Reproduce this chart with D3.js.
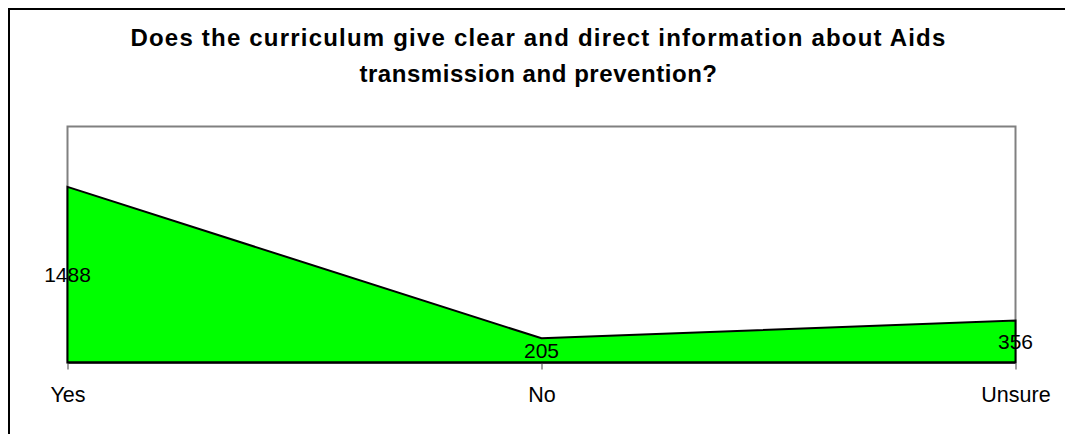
<!DOCTYPE html>
<html>
<head>
<meta charset="utf-8">
<script src="https://cdn.jsdelivr.net/npm/d3@7"></script>
<style>
  html, body { margin: 0; padding: 0; background: #fff; overflow: hidden; }
  svg { display: block; }
  text { font-family: "Liberation Sans", Arial, sans-serif; }
</style>
</head>
<body>
<svg id="chart" width="1065" height="434"></svg>
<script>
// Survey responses
const categories = ["Yes", "No", "Unsure"];
const responses = [1488, 205, 356];
const titleLines = [
  "Does the curriculum give clear and direct information about Aids",
  "transmission and prevention?"
];
const titleSpacing = [1.2, 0.55];

const svg = d3.select("#chart");

// chart frame: only its top and left edges lie within the page
svg.append("path")
  .attr("d", "M9,434 V9 H1065")
  .attr("fill", "none")
  .attr("stroke", "#000")
  .attr("stroke-width", 2);

const plot = { left: 67.5, right: 1015.5, top: 126.5, bottom: 362.5 };

const x = d3.scalePoint()
  .domain(categories)
  .range([plot.left, plot.right]);

const y = d3.scaleLinear()
  .domain([0, 2000])
  .range([plot.bottom, plot.top]);

// plot area border
svg.append("rect")
  .attr("x", plot.left).attr("y", plot.top)
  .attr("width", plot.right - plot.left)
  .attr("height", plot.bottom - plot.top)
  .attr("fill", "#fff")
  .attr("stroke", "#808080")
  .attr("stroke-width", 2);

const data = categories.map((c, i) => ({ cat: c, value: responses[i] }));

const area = d3.area()
  .x(d => x(d.cat))
  .y0(y(0))
  .y1(d => y(d.value));

svg.append("path")
  .datum(data)
  .attr("d", area)
  .attr("fill", "#00ff00")
  .attr("stroke", "#000")
  .attr("stroke-width", 2)
  .attr("stroke-linejoin", "miter");

// category axis
const xAxis = d3.axisBottom(x).tickSize(7).tickPadding(17);
const gx = svg.append("g")
  .attr("transform", `translate(0,${plot.bottom})`)
  .call(xAxis);
gx.select(".domain").remove();
gx.selectAll(".tick line")
  .attr("stroke", "#808080")
  .attr("stroke-width", 1.5)
  .attr("y1", 1);
gx.selectAll(".tick text")
  .attr("font-size", 21.5)
  .attr("fill", "#000")
  .attr("font-family", "Liberation Sans, Arial, sans-serif");

// baseline drawn over the tick tops
svg.append("line")
  .attr("x1", plot.left).attr("x2", plot.right)
  .attr("y1", plot.bottom).attr("y2", plot.bottom)
  .attr("stroke", "#000").attr("stroke-width", 2);

// value labels centred inside the filled area
svg.append("g").selectAll("text")
  .data(data)
  .join("text")
  .attr("x", d => x(d.cat))
  .attr("y", d => (y(d.value) + y(0)) / 2)
  .attr("dy", "0.35em")
  .attr("text-anchor", "middle")
  .attr("font-size", 21)
  .attr("fill", "#000")
  .text(d => d.value);

// title
svg.append("g").selectAll("text")
  .data(titleLines)
  .join("text")
  .attr("x", 538.5)
  .attr("y", (d, i) => 46.3 + i * 35.7)
  .attr("text-anchor", "middle")
  .attr("font-size", 24)
  .attr("font-weight", "bold")
  .attr("letter-spacing", (d, i) => titleSpacing[i])
  .attr("fill", "#000")
  .text(d => d);
</script>
</body>
</html>
